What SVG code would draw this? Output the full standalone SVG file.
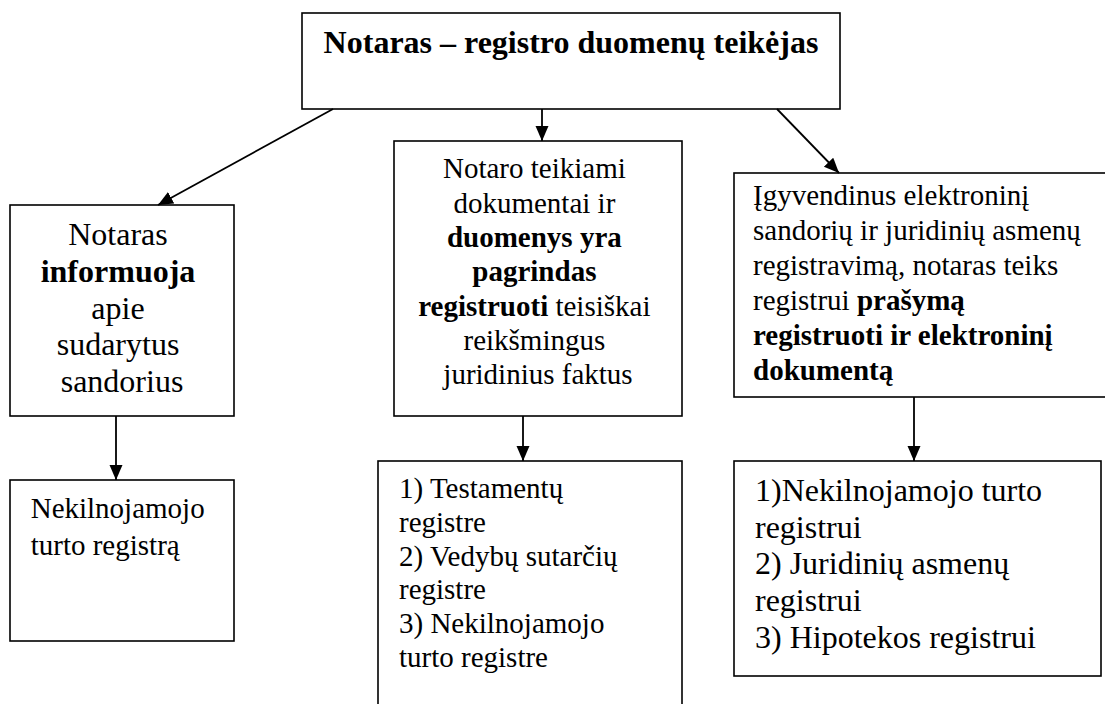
<svg xmlns="http://www.w3.org/2000/svg" width="1105" height="704" viewBox="0 0 1105 704">
<style>
.box{fill:#fff;stroke:#000;stroke-width:1.6}
.b{font-weight:bold}
.c{text-anchor:middle}
.conn line{stroke:#000;stroke-width:1.8}
</style>
<defs>
<marker id="ah" markerUnits="userSpaceOnUse" markerWidth="16" markerHeight="14" refX="15" refY="6.5" orient="auto">
<path d="M0,0 L15,6.5 L0,13 Z" fill="#000"/>
</marker>
</defs>
<rect width="1105" height="704" fill="#fff"/>
<g font-family="Times New Roman, Liberation Serif, Tinos, serif" fill="#000">
<g id="top">
<rect class="box" x="302" y="13" width="538" height="96"/>
<text class="b c" x="571" y="53" font-size="32">Notaras – registro duomenų teikėjas</text>
</g>
<g id="left">
<rect class="box" x="10" y="205" width="224" height="211"/>
<text class="c" font-size="32">
<tspan x="122" y="245">Notaras</tspan>
<tspan x="122" y="281.8" font-weight="bold">informuoja</tspan>
<tspan x="122" y="318.6">apie</tspan>
<tspan x="122" y="355.4">sudarytus</tspan>
<tspan x="122" y="392.2">sandorius</tspan>
</text>
</g>
<g id="middle">
<rect class="box" x="394" y="141" width="288" height="275"/>
<text class="c" font-size="29">
<tspan x="538" y="178.3">Notaro teikiami</tspan>
<tspan x="538" y="212.6">dokumentai ir</tspan>
<tspan x="538" y="246.9" font-weight="bold">duomenys yra</tspan>
<tspan x="538" y="281.2" font-weight="bold">pagrindas</tspan>
<tspan x="538" y="315.5"><tspan font-weight="bold">registruoti</tspan> teisiškai</tspan>
<tspan x="538" y="349.8">reikšmingus</tspan>
<tspan x="538" y="384.1">juridinius faktus</tspan>
</text>
</g>
<g id="right">
<rect class="box" x="734" y="173" width="380" height="224"/>
<text font-size="29">
<tspan x="753" y="205">Įgyvendinus elektroninį</tspan>
<tspan x="753" y="240">sandorių ir juridinių asmenų</tspan>
<tspan x="753" y="275">registravimą, notaras teiks</tspan>
<tspan x="753" y="310">registrui <tspan font-weight="bold">prašymą</tspan></tspan>
<tspan x="753" y="345" font-weight="bold">registruoti ir elektroninį</tspan>
<tspan x="753" y="380" font-weight="bold">dokumentą</tspan>
</text>
</g>
<g id="left-reg">
<rect class="box" x="10" y="480" width="224" height="161"/>
<text font-size="29">
<tspan x="30.7" y="518.3">Nekilnojamojo</tspan>
<tspan x="30.7" y="555">turto registrą</tspan>
</text>
</g>
<g id="middle-reg">
<rect class="box" x="378" y="461" width="304" height="260"/>
<text font-size="29">
<tspan x="399" y="498.3">1) Testamentų</tspan>
<tspan x="399" y="532">registre</tspan>
<tspan x="399" y="565.7">2) Vedybų sutarčių</tspan>
<tspan x="399" y="599.4">registre</tspan>
<tspan x="399" y="633.1">3) Nekilnojamojo</tspan>
<tspan x="399" y="666.8">turto registre</tspan>
</text>
</g>
<g id="right-reg">
<rect class="box" x="734" y="461" width="367" height="215"/>
<text font-size="32">
<tspan x="755" y="500.7">1)Nekilnojamojo turto</tspan>
<tspan x="755" y="537.5">registrui</tspan>
<tspan x="755" y="574.3">2) Juridinių asmenų</tspan>
<tspan x="755" y="611.1">registrui</tspan>
<tspan x="755" y="647.9">3) Hipotekos registrui</tspan>
</text>
</g>
</g>
<g id="connectors" class="conn">
<line x1="333" y1="109" x2="158" y2="205" marker-end="url(#ah)"/>
<line x1="542" y1="109" x2="542" y2="141" marker-end="url(#ah)"/>
<line x1="777" y1="109" x2="839" y2="173" marker-end="url(#ah)"/>
<line x1="116" y1="416" x2="116" y2="480" marker-end="url(#ah)"/>
<line x1="523" y1="416" x2="523" y2="461" marker-end="url(#ah)"/>
<line x1="914" y1="397" x2="914" y2="461" marker-end="url(#ah)"/>
</g>
</svg>
